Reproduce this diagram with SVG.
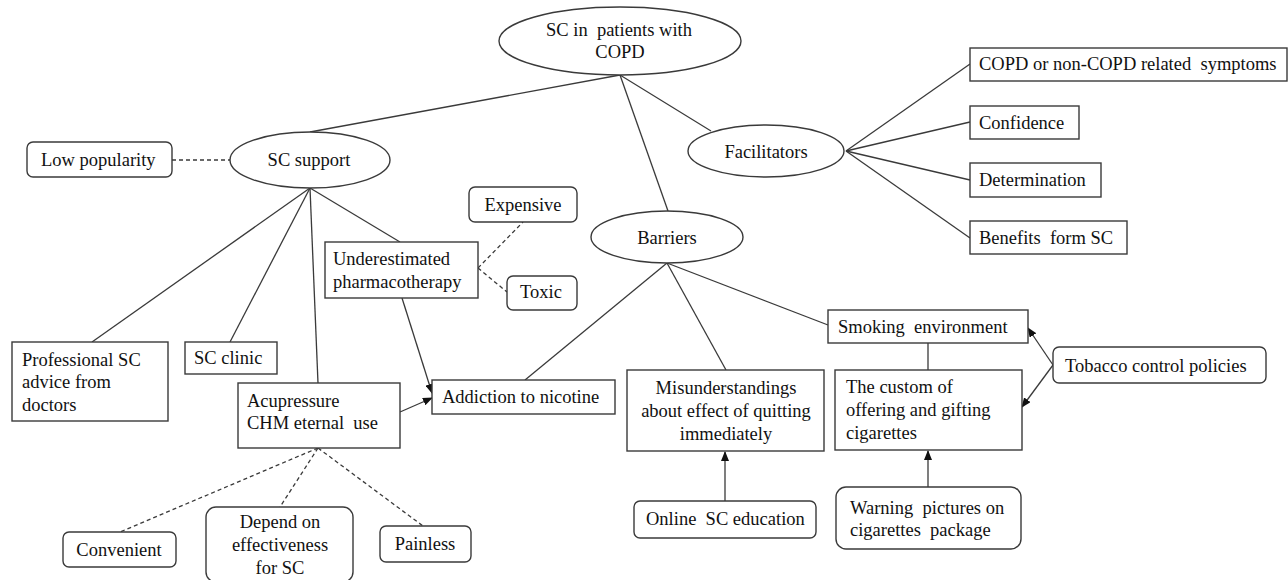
<svg xmlns="http://www.w3.org/2000/svg" width="1288" height="580" viewBox="0 0 1288 580">
<style>
.n{fill:#fff;stroke:#3a3a3a;stroke-width:1.4}
.t{font-family:"Liberation Serif","Times New Roman",serif;font-size:18.5px;fill:#111;white-space:pre}
.c{text-anchor:middle}
.l{fill:none;stroke:#3a3a3a;stroke-width:1.3}
.d{stroke-dasharray:4,3}
</style>
<defs>
<marker id="ah" markerUnits="userSpaceOnUse" markerWidth="10" markerHeight="8" refX="9" refY="4" orient="auto">
<path d="M0,0 L10,4 L0,8 Z" fill="#111"/>
</marker>
</defs>
<rect width="1288" height="580" fill="#fff"/>
<g id="connectors">
<line class="l" x1="620" y1="75" x2="310" y2="132"/>
<line class="l" x1="620" y1="75" x2="668" y2="211"/>
<line class="l" x1="620" y1="75" x2="711" y2="131"/>
<line class="l d" x1="172" y1="160" x2="230" y2="160"/>
<line class="l" x1="846" y1="151" x2="970" y2="64"/>
<line class="l" x1="846" y1="151" x2="970" y2="122"/>
<line class="l" x1="846" y1="151" x2="970" y2="180"/>
<line class="l" x1="846" y1="151" x2="970" y2="238"/>
<line class="l" x1="310" y1="188" x2="92" y2="342"/>
<line class="l" x1="310" y1="188" x2="230" y2="342"/>
<line class="l" x1="310" y1="188" x2="318" y2="383"/>
<line class="l" x1="310" y1="188" x2="400" y2="242"/>
<line class="l" x1="402" y1="298" x2="432" y2="393" marker-end="url(#ah)"/>
<line class="l" x1="400" y1="412" x2="432" y2="398" marker-end="url(#ah)"/>
<line class="l d" x1="478" y1="268" x2="523" y2="222"/>
<line class="l d" x1="478" y1="268" x2="507" y2="292"/>
<line class="l" x1="667" y1="263" x2="525" y2="380"/>
<line class="l" x1="667" y1="263" x2="726" y2="370"/>
<line class="l" x1="667" y1="263" x2="828" y2="325"/>
<line class="l" x1="928" y1="343" x2="928" y2="370"/>
<line class="l" x1="1053" y1="365" x2="1028" y2="328" marker-end="url(#ah)"/>
<line class="l" x1="1053" y1="365" x2="1022" y2="407" marker-end="url(#ah)"/>
<line class="l" x1="928" y1="487" x2="928" y2="451" marker-end="url(#ah)"/>
<line class="l" x1="725" y1="501" x2="725" y2="452" marker-end="url(#ah)"/>
<line class="l d" x1="318" y1="448" x2="120" y2="532"/>
<line class="l d" x1="318" y1="448" x2="280" y2="507"/>
<line class="l d" x1="318" y1="448" x2="423" y2="526"/>
</g>
<g id="root"><ellipse class="n" cx="620" cy="41" rx="121" ry="34"/>
<text class="t c" x="619" y="36">SC in  patients with</text><text class="t c" x="620" y="58">COPD</text></g>
<g id="sc-support"><ellipse class="n" cx="310" cy="160" rx="80" ry="28"/><text class="t c" x="309" y="166">SC support</text></g>
<g id="facilitators"><ellipse class="n" cx="766" cy="151" rx="78" ry="26"/><text class="t c" x="766" y="158">Facilitators</text></g>
<g id="barriers"><ellipse class="n" cx="667" cy="237" rx="76" ry="26"/><text class="t c" x="667" y="244">Barriers</text></g>
<g id="low-popularity"><rect class="n" x="27" y="142" width="145" height="35" rx="6"/><text class="t" x="41" y="166">Low popularity</text></g>
<g id="symptoms"><rect class="n" x="970" y="48" width="317" height="33"/><text class="t" x="979" y="70">COPD or non-COPD related  symptoms</text></g>
<g id="confidence"><rect class="n" x="970" y="106" width="109" height="33"/><text class="t" x="979" y="129">Confidence</text></g>
<g id="determination"><rect class="n" x="970" y="163" width="131" height="34"/><text class="t" x="979" y="186">Determination</text></g>
<g id="benefits"><rect class="n" x="970" y="221" width="157" height="33"/><text class="t" x="979" y="244">Benefits  form SC</text></g>
<g id="professional"><rect class="n" x="12" y="342" width="156" height="79"/>
<text class="t" x="22" y="366">Professional SC</text><text class="t" x="22" y="388">advice from</text><text class="t" x="22" y="411">doctors</text></g>
<g id="sc-clinic"><rect class="n" x="185" y="342" width="92" height="32"/><text class="t" x="194" y="364">SC clinic</text></g>
<g id="acupressure"><rect class="n" x="238" y="383" width="162" height="65"/>
<text class="t" x="247" y="407">Acupressure</text><text class="t" x="247" y="429">CHM eternal  use</text></g>
<g id="underestimated"><rect class="n" x="325" y="242" width="153" height="56"/>
<text class="t" x="333" y="265">Underestimated</text><text class="t" x="333" y="288">pharmacotherapy</text></g>
<g id="expensive"><rect class="n" x="469" y="187" width="108" height="35" rx="6"/><text class="t c" x="523" y="211">Expensive</text></g>
<g id="toxic"><rect class="n" x="507" y="276" width="70" height="34" rx="6"/><text class="t c" x="541" y="298">Toxic</text></g>
<g id="addiction"><rect class="n" x="432" y="380" width="183" height="34"/><text class="t" x="442" y="403">Addiction to nicotine</text></g>
<g id="misunderstandings"><rect class="n" x="627" y="370" width="197" height="81"/>
<text class="t c" x="726" y="394">Misunderstandings</text><text class="t c" x="726" y="417">about effect of quitting</text><text class="t c" x="726" y="440">immediately</text></g>
<g id="smoking-environment"><rect class="n" x="828" y="310" width="200" height="33"/><text class="t" x="838" y="333">Smoking  environment</text></g>
<g id="custom"><rect class="n" x="835" y="370" width="187" height="80"/>
<text class="t" x="846" y="393">The custom of</text><text class="t" x="846" y="416">offering and gifting</text><text class="t" x="846" y="439">cigarettes</text></g>
<g id="tobacco"><rect class="n" x="1053" y="347" width="213" height="36" rx="6"/><text class="t" x="1065" y="372">Tobacco control policies</text></g>
<g id="warning"><rect class="n" x="836" y="487" width="185" height="62" rx="10"/>
<text class="t" x="850" y="514">Warning  pictures on</text><text class="t" x="850" y="536">cigarettes  package</text></g>
<g id="online"><rect class="n" x="634" y="501" width="182" height="37" rx="6"/><text class="t" x="646" y="525">Online  SC education</text></g>
<g id="convenient"><rect class="n" x="63" y="532" width="113" height="35" rx="6"/><text class="t c" x="119" y="556">Convenient</text></g>
<g id="depend"><rect class="n" x="206" y="507" width="147" height="75" rx="10"/>
<text class="t c" x="280" y="528">Depend on</text><text class="t c" x="280" y="551">effectiveness</text><text class="t c" x="280" y="574">for SC</text></g>
<g id="painless"><rect class="n" x="380" y="526" width="91" height="36" rx="6"/><text class="t c" x="425" y="550">Painless</text></g>
</svg>
